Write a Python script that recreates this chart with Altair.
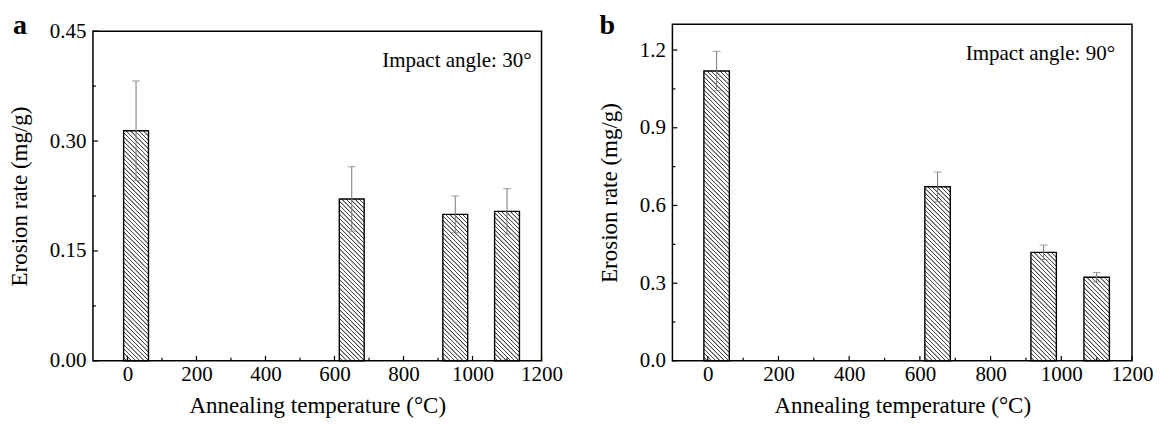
import altair as alt
import pandas as pd

# ---------------- data ----------------
temps = [25, 650, 950, 1100]
rate_30 = [0.314, 0.221, 0.200, 0.204]
err_30 = [0.068, 0.044, 0.025, 0.031]
rate_90 = [1.119, 0.672, 0.419, 0.323]
err_90 = [0.076, 0.057, 0.028, 0.018]

x_ticks = [0, 200, 400, 600, 800, 1000, 1200]
x_minor = [100, 300, 500, 700, 900, 1100]
y_ticks_a = [0.0, 0.15, 0.30, 0.45]
y_minor_a = [0.075, 0.225, 0.375]
y_ticks_b = [0.0, 0.3, 0.6, 0.9, 1.2]
y_minor_b = [0.15, 0.45, 0.75, 1.05]

FONT = "Liberation Serif"
HALF = 36          # half bar width in data units
XMIN, XMAX = -100, 1200
H = 337            # common cell height (pixels)


def hatch(w, h, period=4.3, dark="#444444"):
    """diagonal (top-left -> bottom-right) stripes as a linear gradient"""
    n = max(1, int(round((w + h) / period)))
    s = (w + h) / (w * w + h * h)
    stops = []
    for k in range(n):
        stops += [
            {"offset": k / n, "color": "white"},
            {"offset": (k + 0.12) / n, "color": dark},
            {"offset": (k + 0.28) / n, "color": dark},
            {"offset": (k + 0.40) / n, "color": "white"},
        ]
    stops.append({"offset": 1, "color": "white"})
    return {"gradient": "linear", "x1": 1, "y1": 0,
            "x2": 1 - w * s, "y2": h * s, "stops": stops}


def panel(rates, errs, yticks, yminor, ymax, fmt, W, top, letter, lx, ly,
          label, lab_dx):
    df = pd.DataFrame({"T": temps, "rate": rates, "err": errs})
    xscale = alt.Scale(domain=[XMIN, XMAX], nice=False, zero=False)
    yscale = alt.Scale(domain=[0, ymax], nice=False, range=[H, top])
    xaxis = alt.Axis(values=x_ticks, format="d", ticks=False, domain=False,
                     grid=False, labelFontSize=21, labelFont=FONT,
                     labelColor="black", labelPadding=3, titleFontSize=23,
                     titleFont=FONT, titleFontWeight="normal",
                     titleColor="black", titlePadding=10, labelFlush=False,
                     title="Annealing temperature (°C)")
    yaxis = alt.Axis(values=yticks, format=fmt, ticks=False, domain=False,
                     grid=False, labelFontSize=21, labelFont=FONT,
                     labelColor="black", labelPadding=7, titleFontSize=23,
                     titleFont=FONT, titleFontWeight="normal",
                     titleColor="black", titlePadding=18, labelFlush=False,
                     title="Erosion rate (mg/g)")

    base = alt.Chart(df).transform_calculate(
        x0=f"datum.T - {HALF}", x1=f"datum.T + {HALF}",
        lo="datum.rate - datum.err", hi="datum.rate + datum.err")

    layers = []
    wpx = 2 * HALF * W / (XMAX - XMIN)
    for t, r in zip(temps, rates):
        hpx = r / ymax * (H - top)
        layers.append(
            base.transform_filter(f"datum.T == {t}")
            .mark_bar(fill=hatch(wpx, hpx), stroke="black", strokeWidth=1.4)
            .encode(x=alt.X("x0:Q", scale=xscale, axis=xaxis),
                    x2="x1:Q",
                    y=alt.Y("rate:Q", scale=yscale, axis=yaxis),
                    y2=alt.datum(0))
        )
    ecol = "#777777"
    layers.append(base.mark_rule(color=ecol, strokeWidth=1).encode(
        x=alt.X("T:Q", scale=xscale, axis=xaxis),
        y=alt.Y("lo:Q", scale=yscale, axis=yaxis), y2="hi:Q"))
    for fld in ["hi", "lo"]:
        layers.append(base.mark_tick(color=ecol, thickness=1, size=8,
                                     orient="horizontal").encode(
            x=alt.X("T:Q", scale=xscale, axis=xaxis),
            y=alt.Y(f"{fld}:Q", scale=yscale, axis=yaxis)))

    # inward ticks
    def ytick(vals, ln):
        return alt.Chart(pd.DataFrame({"v": vals})).mark_rule(
            color="black", strokeWidth=1.2).encode(
            y=alt.Y("v:Q", scale=yscale, axis=yaxis),
            x=alt.value(0), x2=alt.value(ln))

    def xtick(vals, ln):
        return alt.Chart(pd.DataFrame({"v": vals})).mark_rule(
            color="black", strokeWidth=1.2).encode(
            x=alt.X("v:Q", scale=xscale, axis=xaxis),
            y=alt.value(H), y2=alt.value(H - ln))

    layers += [ytick(yticks, 5), ytick(yminor, 3),
               xtick(x_ticks, 5), xtick(x_minor, 3)]

    # frame
    layers.append(alt.Chart(pd.DataFrame({"f": [0]})).mark_rect(
        filled=False, stroke="black", strokeWidth=1.5).encode(
        x=alt.value(0), x2=alt.value(W), y=alt.value(top), y2=alt.value(H)))

    # annotation and panel letter
    layers.append(alt.Chart(pd.DataFrame({"s": [label]})).mark_text(
        align="right", baseline="alphabetic", font=FONT, fontSize=21,
        color="black").encode(x=alt.value(W - lab_dx), y=alt.value(top + 36),
                              text="s:N"))
    layers.append(alt.Chart(pd.DataFrame({"s": [letter]})).mark_text(
        align="left", baseline="alphabetic", font=FONT, fontSize=28,
        fontWeight="bold", color="black").encode(
        x=alt.value(lx), y=alt.value(ly), text="s:N"))

    return alt.layer(*layers).properties(width=W, height=H)


pa = panel(rate_30, err_30, y_ticks_a, y_minor_a, 0.45, ".2f", 449, 7,
           "a", -80, 10, "Impact angle: 30°", 10)
pb = panel(rate_90, err_90, y_ticks_b, y_minor_b, 1.3, ".1f", 460, 0,
           "b", -73, 10, "Impact angle: 90°", 17)

chart = alt.hconcat(pa, pb, spacing=131, bounds="flush").properties(
    padding={"left": 0, "top": 4, "right": 0, "bottom": 0},
    background="white",
).configure_view(stroke="transparent", strokeWidth=0)

chart.save("out.html", embed_options={"renderer": "svg", "actions": False})
